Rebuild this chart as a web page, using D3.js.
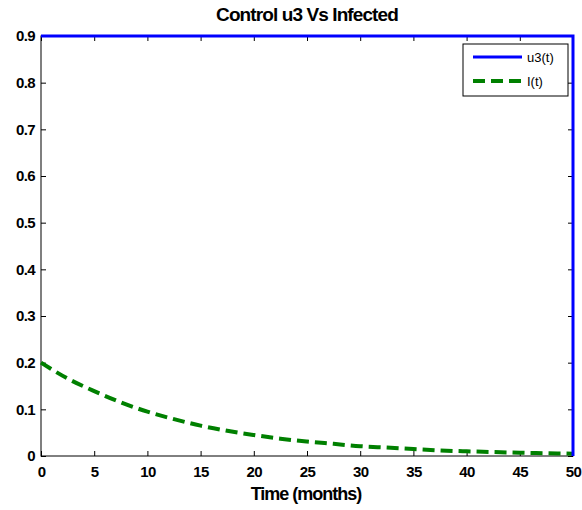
<!DOCTYPE html>
<html><head><meta charset="utf-8">
<script src="https://cdn.jsdelivr.net/npm/d3@7"></script>
<style>body{margin:0;background:#fff}svg text{font-family:"Liberation Sans",Arial,sans-serif}</style>
</head><body><svg id="c" width="582" height="510"></svg>
<script>
const xTicks=[0,5,10,15,20,25,30,35,40,45,50];
const yTicks=[0,0.1,0.2,0.3,0.4,0.5,0.6,0.7,0.8,0.9];
const timeI=[0,2.5,5,7.5,10,12.5,15,17.5,20,22.5,25,27.5,30,32.5,35,37.5,40,42.5,45,47.5,50];
const infected=[0.2,0.166,0.139,0.115,0.095,0.079,0.065,0.054,0.045,0.037,0.031,0.026,0.021,0.018,0.015,0.012,0.010,0.0085,0.007,0.006,0.005];
const timeU=[0,50,50];
const u3=[0.9,0.9,0];
const svg=d3.select("#c");
const L=41,R=573,T=36,B=456;
const x=d3.scaleLinear().domain([0,50]).range([L,R]);
const y=d3.scaleLinear().domain([0,0.9]).range([B,T]);
svg.append("rect").attr("x",L).attr("y",T).attr("width",R-L).attr("height",B-T).attr("fill","#fff").attr("stroke","#000").attr("stroke-width",1);
const fs="bold 15px 'Liberation Sans',Arial";
const gx=svg.append("g").attr("transform",`translate(0,${B})`).call(d3.axisBottom(x).tickValues(xTicks).tickSizeInner(-5).tickSizeOuter(0).tickPadding(8).tickFormat(d3.format("d")));
const gxt=svg.append("g").attr("transform",`translate(0,${T})`).call(d3.axisTop(x).tickValues(xTicks).tickSizeInner(-5).tickSizeOuter(0).tickFormat(""));
const gy=svg.append("g").attr("transform",`translate(${L},0)`).call(d3.axisLeft(y).tickValues(yTicks).tickSizeInner(-5).tickSizeOuter(0).tickPadding(6).tickFormat(d=>d===0?"0":d3.format(".1f")(d)));
const gyr=svg.append("g").attr("transform",`translate(${R},0)`).call(d3.axisRight(y).tickValues(yTicks).tickSizeInner(-5).tickSizeOuter(0).tickFormat(""));
[gx,gxt,gy,gyr].forEach(g=>{g.select(".domain").remove();g.selectAll("line").attr("stroke","#000");g.selectAll("text").attr("fill","#000").style("font",fs).style("letter-spacing","-0.6px");});
gx.selectAll("text").attr("dy","0.85em");
const line=d3.line().x(d=>x(d[0])).y(d=>y(d[1]));
svg.append("path").datum(timeI.map((t,i)=>[t,infected[i]])).attr("d",line.curve(d3.curveMonotoneX)).attr("fill","none").attr("stroke","#008000").attr("stroke-width",4).attr("stroke-dasharray","12,6");
svg.append("path").datum(timeU.map((t,i)=>[t,u3[i]])).attr("d",d3.line().x(d=>x(d[0])).y(d=>y(d[1]))).attr("fill","none").attr("stroke","#0000ff").attr("stroke-width",3);
const lg=svg.append("g");
lg.append("rect").attr("x",463).attr("y",44).attr("width",105).attr("height",52).attr("fill","#fff").attr("stroke","#000").attr("stroke-width",1);
lg.append("line").attr("x1",473).attr("x2",522).attr("y1",57).attr("y2",57).attr("stroke","#0000ff").attr("stroke-width",3);
lg.append("line").attr("x1",473).attr("x2",522).attr("y1",81).attr("y2",81).attr("stroke","#008000").attr("stroke-width",4).attr("stroke-dasharray","12,6");
lg.append("text").attr("x",527).attr("y",62).text("u3(t)").style("font","13px 'Liberation Sans',Arial");
lg.append("text").attr("x",527).attr("y",86).text("I(t)").style("font","13px 'Liberation Sans',Arial");
svg.append("text").attr("x",307).attr("y",21).attr("text-anchor","middle").text("Control u3 Vs Infected").style("font","bold 19px 'Liberation Sans',Arial").style("letter-spacing","-0.9px");
svg.append("text").attr("x",306).attr("y",500).attr("text-anchor","middle").text("Time (months)").style("font","bold 18px 'Liberation Sans',Arial").style("letter-spacing","-1px");
</script></body></html>
